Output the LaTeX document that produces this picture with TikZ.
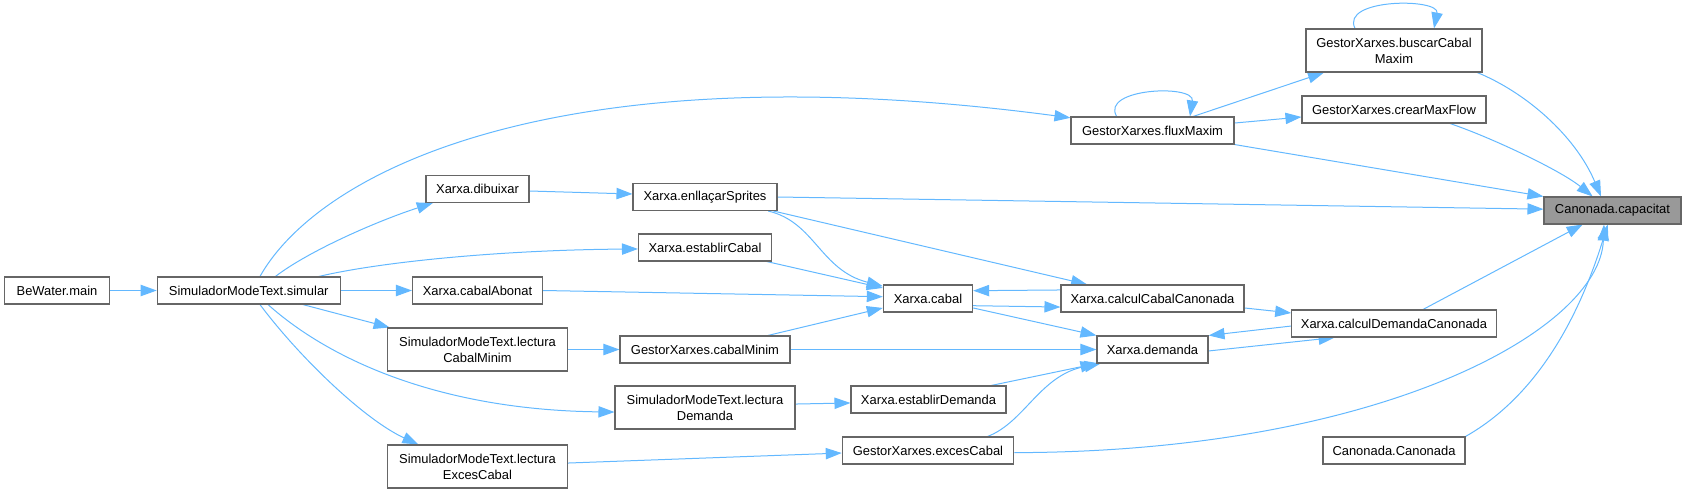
\documentclass[tikz,border=0pt]{standalone}
\usepackage{fontspec}
\setmainfont{Liberation Sans}
\usetikzlibrary{arrows.meta,backgrounds}
\definecolor{calledge}{HTML}{63B8FF}
\definecolor{boxline}{HTML}{666666}
\definecolor{rootfill}{HTML}{999999}
\tikzset{
  fn/.style={draw=boxline, fill=white, line width=0.8pt, minimum width=#1,
    minimum height=20.25pt, inner sep=2pt, font=\fontsize{9.7}{12}\selectfont},
  fn2/.style={fn=#1, minimum height=32.25pt, align=center},
  root/.style={fn=#1, fill=rootfill},
  call/.style={-{Triangle[length=12pt, width=8.5pt]}, draw=calledge, line width=0.75pt},
}

\begin{document}
\begin{tikzpicture}[x=0.75pt, y=-0.75pt]
  \useasboundingbox (0,0) rectangle (1686,493);

  % Callers, column by column
  \node[fn=79pt] (main) at (57,290.5) {BeWater.main};
  \node[fn=137.25pt] (simular) at (248.75,290.5) {SimuladorModeText.simular};

  \node[fn=77.25pt] (dibuixar) at (477.5,189) {Xarxa.dibuixar};
  \node[fn=97.5pt] (cabalAbonat) at (477.5,290.5) {Xarxa.cabalAbonat};
  \node[fn2=135pt] (lecturaCabalMinim) at (477.5,349.5) {SimuladorModeText.lectura\\CabalMinim};
  \node[fn2=135pt] (lecturaExcesCabal) at (477.5,466.5) {SimuladorModeText.lectura\\ExcesCabal};

  \node[fn=108pt] (enllacar) at (705,197) {Xarxa.enllaçarSprites};
  \node[fn=99.75pt] (establirCabal) at (705,247.5) {Xarxa.establirCabal};
  \node[fn=127.5pt] (cabalMinim) at (705,349.5) {GestorXarxes.cabalMinim};
  \node[fn2=135pt] (lecturaDemanda) at (705,407.5) {SimuladorModeText.lectura\\Demanda};

  \node[fn=67pt] (cabal) at (928,298.5) {Xarxa.cabal};
  \node[fn=116.25pt] (establirDemanda) at (928.5,399.5) {Xarxa.establirDemanda};
  \node[fn=128.6pt] (excesCabal) at (928,450.5) {GestorXarxes.excesCabal};

  \node[fn=122.25pt] (fluxMaxim) at (1152.5,130.5) {GestorXarxes.fluxMaxim};
  \node[fn=137.25pt] (calculCabal) at (1152.5,298.5) {Xarxa.calculCabalCanonada};
  \node[fn=83.25pt] (demanda) at (1152.5,349.5) {Xarxa.demanda};

  \node[fn2=132pt] (buscarCabal) at (1394,50.5) {GestorXarxes.buscarCabal\\Maxim};
  \node[fn=138pt] (crearMaxFlow) at (1394,109.5) {GestorXarxes.crearMaxFlow};
  \node[fn=153.4pt] (calculDemanda) at (1394,323.5) {Xarxa.calculDemandaCanonada};
  \node[fn=106.5pt] (canonada) at (1394,450.5) {Canonada.Canonada};

  % Called function
  \node[root=102.75pt] (capacitat) at (1612.5,210.5) {Canonada.capacitat};

  \begin{scope}[on background layer]
  % Calls from the left part
  \draw[call] (main) -- (simular);
  \draw[call] ([xshift=8.4pt]simular.north) .. controls (320,170) and (560,50) .. ([yshift=-1pt]fluxMaxim.north west);
  \draw[call] ([xshift=20pt]simular.north) .. controls (310,250) and (380,220) .. ([xshift=5.5pt]dibuixar.south west);
  \draw[call] ([xshift=-16.5pt]simular.north east) .. controls (380,262) and (500,250) .. ([yshift=-1.1pt]establirCabal.west);
  \draw[call] (simular) -- (cabalAbonat);
  \draw[call] ([xshift=-28.5pt]simular.south east) -- ([xshift=2pt]lecturaCabalMinim.north west);
  \draw[call] ([xshift=14.4pt]simular.south) .. controls (330,360) and (440,410) .. ([yshift=-3.4pt]lecturaDemanda.west);
  \draw[call] ([xshift=8.4pt]simular.south) .. controls (300,358) and (365,420) .. ([xshift=23.6pt]lecturaExcesCabal.north west);

  \draw[call] ([yshift=-1.5pt]dibuixar.east) -- ([yshift=2.25pt]enllacar.west);
  \draw[call] (cabalAbonat.east) -- ([yshift=1.35pt]cabal.west);
  \draw[call] (lecturaCabalMinim) -- (cabalMinim);
  \draw[call] ([yshift=2.6pt]lecturaDemanda.east) -- ([yshift=-2.6pt]establirDemanda.west);
  \draw[call] ([yshift=2.6pt]lecturaExcesCabal.east) -- ([yshift=-1.9pt]excesCabal.west);

  % Calls in the middle
  \draw[call] (enllacar.east) -- ([yshift=1pt]capacitat.west);
  \draw[call] ([xshift=-7pt]enllacar.south east) .. controls (815,222) and (820,270) .. ([yshift=-1.3pt]cabal.north west);
  \draw[call] ([xshift=-3pt]enllacar.south east) -- ([xshift=20pt]calculCabal.north west);
  \draw[call] ([xshift=-4pt]establirCabal.south east) -- ([yshift=7.9pt]cabal.west);
  \draw[call] ([xshift=-17pt]cabalMinim.north east) -- ([yshift=-7.1pt]cabal.west);
  \draw[call] (cabalMinim) -- (demanda);
  \draw[call] ([xshift=-11.5pt]establirDemanda.north east) -- (demanda.south west);
  \draw[call] ([xshift=-20pt]excesCabal.north east) .. controls (1025,422) and (1040,375) .. ([xshift=3pt]demanda.south west);
  \draw[call] ([yshift=-1.6pt]excesCabal.east) .. controls (1380,452) and (1600,330) .. ([xshift=-6.4pt]capacitat.south);

  \draw[call] ([yshift=-5.4pt]cabal.east) -- ([yshift=-6.4pt]calculCabal.west);
  \draw[call] ([yshift=6.4pt]calculCabal.west) -- ([yshift=5.85pt]cabal.east);
  \draw[call] ([yshift=-7.1pt]cabal.east) -- (demanda.north west);
  \draw[call] ([yshift=-7.1pt]calculCabal.east) -- ([yshift=7.9pt]calculDemanda.west);
  \draw[call] ([yshift=-1.9pt]calculDemanda.west) -- (demanda.north east);
  \draw[call] ([yshift=-1.1pt]demanda.east) -- ([xshift=32.6pt]calculDemanda.south west);

  % Calls on the right
  \draw[call] ([xshift=-26.9pt]fluxMaxim.north) .. controls (1100,88) and (1195,84) .. ([xshift=28.1pt]fluxMaxim.north);
  \draw[call] ([xshift=30.4pt]fluxMaxim.north) -- ([xshift=13.9pt]buscarCabal.south west);
  \draw[call] ([yshift=5.6pt]fluxMaxim.east) -- ([yshift=-5.6pt]crearMaxFlow.west);
  \draw[call] (fluxMaxim.south east) -- (capacitat.north west);
  \draw[call] ([xshift=-29.25pt]buscarCabal.north) .. controls (1340,-2) and (1440,-2) .. ([xshift=30pt]buscarCabal.north);
  \draw[call] ([xshift=-4pt]buscarCabal.south east) .. controls (1525,92) and (1575,135) .. ([xshift=-8.6pt]capacitat.north);
  \draw[call] ([xshift=-27.4pt]crearMaxFlow.south east) .. controls (1490,137) and (1560,170) .. ([xshift=-14.9pt]capacitat.north);
  \draw[call] ([xshift=21.75pt]calculDemanda.north) -- ([xshift=-22.4pt]capacitat.south);
  \draw[call] (canonada.north east) .. controls (1530,400) and (1575,330) .. ([xshift=-3.6pt]capacitat.south);
  \end{scope}
\end{tikzpicture}
\end{document}
